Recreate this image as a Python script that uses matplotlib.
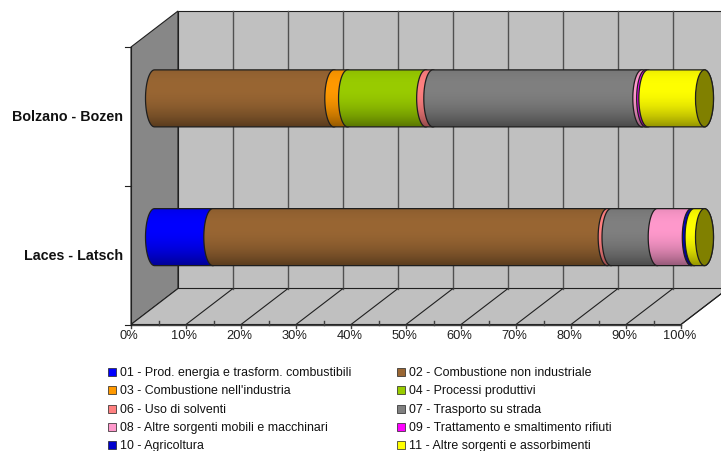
import numpy as np
import matplotlib.pyplot as plt
import matplotlib.colors as mcolors
from matplotlib.patches import Polygon, Ellipse, Rectangle

plt.rcParams['font.family'] = ['Liberation Sans', 'DejaVu Sans']

# Shares of emissions by macrosector, in percent
cities = ['Laces - Latsch', 'Bolzano - Bozen']
sectors = ['01 - Prod. energia e trasform. combustibili',
           '02 - Combustione non industriale',
           "03 - Combustione nell'industria",
           '04 - Processi produttivi',
           '06 - Uso di solventi',
           '07 - Trasporto su strada',
           '08 - Altre sorgenti mobili e macchinari',
           '09 - Trattamento e smaltimento rifiuti',
           '10 - Agricoltura',
           '11 - Altre sorgenti e assorbimenti']
colors = ['#0000ff', '#996633', '#ff9900', '#99cc00', '#ff8080',
          '#808080', '#ff99cc', '#ff00ff', '#0000cc', '#ffff00']
laces = [10.6, 71.7, 0.0, 0.0, 0.7, 8.4, 6.2, 0.0, 0.5, 1.9]
bolzano = [0.0, 32.6, 2.5, 14.2, 1.3, 38.0, 0.7, 0.4, 0.0, 10.3]
xticks = list(range(0, 101, 10))

W, H = 721, 452
# pixel scale of the front plane and depth offset of the box
SX, SY = 5.5, 138.75          # px per percent, px per category
X0, Y0 = 131, 325.5           # screen position of the front origin
DX, DY = 47 / SX, 36 / SY     # back wall offset in data units

fig = plt.figure(figsize=(W / 100, H / 100), dpi=100)
ax = fig.add_axes([0, 0, 1, 1])
ax.axis('off')

# left wall, back wall, floor
ax.add_patch(Polygon([(0, 0), (0, 2), (DX, 2 + DY), (DX, DY)], closed=True,
                     fc='#878787', ec='#202020', lw=0.8, zorder=1))
ax.add_patch(Rectangle((DX, DY), 100, 2, fc='#c0c0c0', ec='#202020', lw=0.8, zorder=1))
ax.add_patch(Polygon([(0, 0), (100, 0), (100 + DX, DY), (DX, DY)], closed=True,
                     fc='#c0c0c0', ec='#202020', lw=0.8, zorder=1))
for x in xticks[1:]:
    ax.plot([x + DX, x + DX], [DY, 2 + DY], color='#505050', lw=1, zorder=2)
    ax.plot([x, x + DX], [0, DY], color='#202020', lw=0.8, zorder=2)

# value axis along the front edge of the floor
ax.plot([0, 100], [0, 0], color='#404040', lw=1, zorder=3)
for x in xticks:
    ax.plot([x, x], [0, -3 / SY], color='#404040', lw=1, zorder=3)
    ax.text(x - 0.3, -4.5 / SY, f'{x}%', ha='center', va='top', fontsize=9.3, color='#202020')
for x in range(5, 100, 10):
    ax.plot([x, x], [0, 4 / SY], color='#404040', lw=1, zorder=3)

# category axis on the front edge of the left wall
ax.plot([0, 0], [0, 2], color='#202020', lw=0.8, zorder=3)
for y in range(3):
    ax.plot([0, -6 / SX], [y, y], color='#202020', lw=0.8, zorder=3)
for i, name in enumerate(cities):
    ax.text(-8 / SX, i + 0.5, name, ha='right', va='center',
            fontsize=10.3, fontweight='bold', color='#111111')

# stacked cylinders, placed halfway into the box
A = 9 / SX          # half width of the end ellipses
R = 28.5 / SY       # cylinder radius
t = np.linspace(0, 1, 64)[:, None]
shade = 1.0 - 0.42 * ((t - 0.3) / 0.7) ** 2


def cylinder_part(x0, x1, yc, color, z):
    th_l = np.linspace(np.pi / 2, 3 * np.pi / 2, 40)
    th_r = np.linspace(-np.pi / 2, np.pi / 2, 40)
    left = np.column_stack([x0 + A * np.cos(th_l), yc + R * np.sin(th_l)])
    right = np.column_stack([x1 + A * np.cos(th_r), yc + R * np.sin(th_r)])
    patch = Polygon(np.vstack([left, right]), closed=True, fc='none',
                    ec='#1e1e1e', lw=0.9, zorder=z + 0.5)
    ax.add_patch(patch)
    rgb = np.array(mcolors.to_rgb(color))
    img = np.clip(rgb[None, None, :] * shade[..., None], 0, 1)
    im = ax.imshow(img, extent=(x0 - A, x1 + A, yc - R, yc + R), origin='upper',
                   aspect='auto', interpolation='bilinear', zorder=z)
    im.set_clip_path(patch)


for i, values in enumerate([laces, bolzano]):
    yc = i + 0.5 + DY / 2
    start = DX / 2
    z = 5
    last = None
    for v, c in zip(values, colors):
        if v <= 0:
            continue
        cylinder_part(start, start + v, yc, c, z)
        start += v
        z += 1
        last = c
    face = np.array(mcolors.to_rgb(last)) * 0.5
    ax.add_patch(Ellipse((start, yc), 2 * A, 2 * R, fc=face, ec='#1e1e1e',
                         lw=0.9, zorder=z + 1))

ax.set_xlim(-X0 / SX, (W - X0) / SX)
ax.set_ylim(-(H - Y0) / SY, Y0 / SY)

# legend in two columns under the chart
rows = [373, 391.3, 409.6, 427.9, 446.2]
cols = [(108, 120), (397, 409)]
for k, (label, c) in enumerate(zip(sectors, colors)):
    r, col = divmod(k, 2)
    sx, tx = cols[col]
    py = rows[r]
    fig.add_artist(Rectangle((sx / W, 1 - (py + 4) / H), 8 / W, 8 / H, fc=c,
                             ec='#202020', lw=0.5, transform=fig.transFigure))
    fig.text(tx / W, 1 - py / H, label, ha='left', va='center',
             fontsize=8.9, color='#111111')

fig.savefig('out.png', dpi=100)
